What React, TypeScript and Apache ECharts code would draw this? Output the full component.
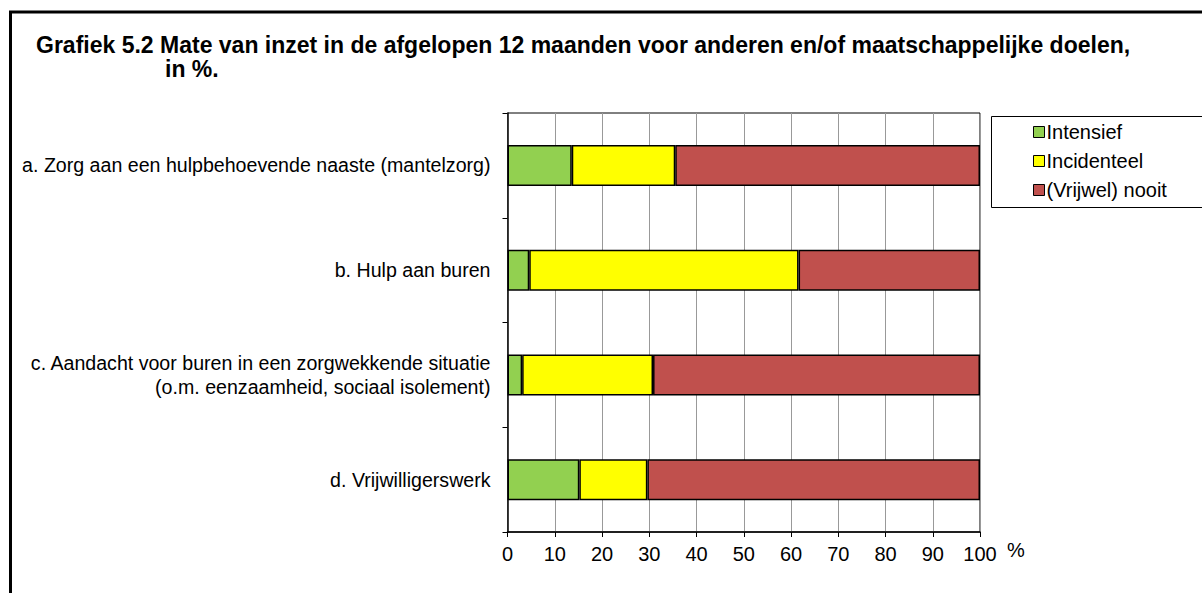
import React, { useEffect, useRef } from "react";
import * as echarts from "echarts";

const categories = [
  "a. Zorg aan een hulpbehoevende naaste (mantelzorg)",
  "b. Hulp aan buren",
  "c. Aandacht voor buren in een zorgwekkende situatie\n(o.m. eenzaamheid, sociaal isolement)",
  "d. Vrijwilligerswerk",
];
const intensief = [13.6, 4.6, 3.1, 15.2];
const incidenteel = [21.9, 57.0, 27.7, 14.4];
const nooit = [64.5, 38.4, 69.2, 70.4];
const seriesNames = ["Intensief", "Incidenteel", "(Vrijwel) nooit"];
const colors = ["#92d050", "#ffff00", "#c0504d"];

const FONT = "Liberation Sans, Arial, sans-serif";

export default function App() {
  const ref = useRef<HTMLDivElement>(null);
  useEffect(() => {
    const chart = echarts.init(ref.current!, null, { renderer: "svg" });
    const dataSets = [intensief, incidenteel, nooit];
    chart.setOption({
      animation: false,
      backgroundColor: "#ffffff",
      title: [
        {
          text: "Grafiek 5.2 Mate van inzet in de afgelopen 12 maanden voor anderen en/of maatschappelijke doelen,",
          left: 36,
          top: 33,
          padding: 0,
          textStyle: { fontFamily: FONT, fontSize: 23, fontWeight: "bold", color: "#000" },
        },
        {
          text: "in %.",
          left: 165,
          top: 57,
          padding: 0,
          textStyle: { fontFamily: FONT, fontSize: 23, fontWeight: "bold", color: "#000" },
        },
      ],
      legend: {
        orient: "vertical",
        left: 1033,
        top: 122,
        padding: 0,
        itemWidth: 11,
        itemHeight: 11,
        itemGap: 9,
        icon: "rect",
        data: seriesNames,
        textStyle: { fontFamily: FONT, fontSize: 20, color: "#000", padding: [0, 0, 0, -3] },
        itemStyle: { borderColor: "#000", borderWidth: 1 },
      },
      grid: {
        left: 507.5,
        right: 222,
        top: 113,
        bottom: 61,
        show: true,
        borderColor: "#000",
        borderWidth: 1,
        backgroundColor: "transparent",
      },
      xAxis: {
        type: "value",
        min: 0,
        max: 100,
        interval: 10,
        name: "%",
        nameLocation: "end",
        nameGap: 27,
        nameTextStyle: { fontFamily: FONT, fontSize: 20, color: "#000", verticalAlign: "top", padding: [8, 0, 0, 0] },
        axisLine: { show: true, lineStyle: { color: "#000", width: 1.5 } },
        axisTick: { show: true, length: 5, lineStyle: { color: "#000" } },
        axisLabel: { fontFamily: FONT, fontSize: 20, color: "#000", margin: 12 },
        splitLine: { show: true, lineStyle: { color: "#999", width: 1 } },
      },
      yAxis: {
        type: "category",
        inverse: true,
        data: categories,
        axisLine: { show: true, lineStyle: { color: "#000", width: 1.5 } },
        axisTick: { show: true, length: 5, alignWithLabel: false, lineStyle: { color: "#000" } },
        axisLabel: {
          fontFamily: FONT,
          fontSize: 19.6,
          color: "#000",
          margin: 17,
          align: "right",
          lineHeight: 24,
        },
        splitLine: { show: false },
      },
      graphic: [
        {
          type: "rect",
          shape: { x: 10.5, y: 12, width: 1400, height: 800 },
          style: { fill: "none", stroke: "#000", lineWidth: 3 },
          silent: true,
        },
        {
          type: "rect",
          shape: { x: 991.5, y: 116.5, width: 300, height: 91 },
          style: { fill: "none", stroke: "#000", lineWidth: 1 },
          silent: true,
        },
      ],
      series: seriesNames.map((name, i) => ({
        name,
        type: "bar",
        stack: "total",
        barWidth: 41,
        data: dataSets[i],
        itemStyle: { color: colors[i], borderColor: "#000", borderWidth: 1.5 },
      })),
    });
    return () => chart.dispose();
  }, []);
  return (
    <div
      ref={ref}
      style={{ position: "fixed", left: 0, top: 0, width: 1202, height: 593 }}
    />
  );
}
